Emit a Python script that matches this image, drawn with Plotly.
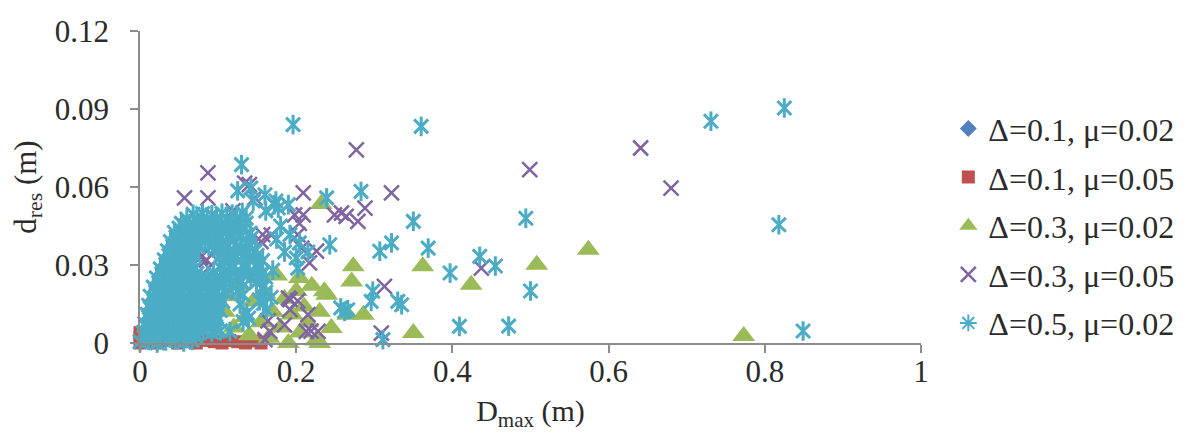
import plotly.graph_objects as go

# ---------------- data ----------------
# Δ=0.1, μ=0.02  (hidden under the dense cluster near the origin)
blue_x = [0.004, 0.012, 0.020, 0.030, 0.040, 0.050, 0.025, 0.035, 0.045, 0.015]
blue_y = [0.002, 0.004, 0.006, 0.008, 0.010, 0.012, 0.015, 0.020, 0.018, 0.010]

# Δ=0.1, μ=0.05  (flat strip along the bottom)
red_x = [0.000, 0.000, 0.000, 0.010, 0.022, 0.035, 0.048, 0.060, 0.072, 0.084,
         0.095, 0.105, 0.115, 0.125, 0.135, 0.145, 0.155]
red_y = [0.000, 0.002, 0.004, 0.0005, 0.000, 0.001, 0.000, 0.0005, 0.000, 0.001,
         0.0005, 0.000, 0.001, 0.0005, 0.000, 0.0008, 0.000]

# Δ=0.3, μ=0.02
green_x = [0.232, 0.273, 0.271, 0.362, 0.424, 0.239, 0.266, 0.286, 0.350, 0.245,
           0.230, 0.574, 0.508, 0.773, 0.204, 0.236,
           0.108, 0.115, 0.120, 0.125, 0.135, 0.140, 0.145, 0.150, 0.155, 0.160,
           0.165, 0.170, 0.175, 0.180, 0.185, 0.190, 0.195, 0.200, 0.205, 0.210,
           0.215, 0.220, 0.225, 0.230]
green_y = [0.0535, 0.0295, 0.0237, 0.0295, 0.0224, 0.0186, 0.0109, 0.0109, 0.0038, 0.0058,
           0.0000, 0.0359, 0.0301, 0.0027, 0.0250, 0.0199,
           0.0120, 0.0180, 0.0060, 0.0220, 0.0100, 0.0030, 0.0160, 0.0250, 0.0080, 0.0190,
           0.0020, 0.0120, 0.0260, 0.0060, 0.0170, 0.0000, 0.0110, 0.0200, 0.0040, 0.0140,
           0.0080, 0.0220, 0.0010, 0.0120]

# Δ=0.3, μ=0.05
purple_x = [0.641, 0.680, 0.499, 0.277, 0.322, 0.209, 0.087, 0.258, 0.279, 0.288,
            0.157, 0.209, 0.207, 0.437, 0.313, 0.309, 0.185, 0.228, 0.160, 0.202,
            0.057, 0.087, 0.134, 0.147, 0.119, 0.085, 0.078, 0.092, 0.088, 0.264,
            0.204, 0.226, 0.217, 0.192, 0.192, 0.166, 0.213, 0.140, 0.155, 0.168,
            0.249, 0.198, 0.202, 0.190, 0.215, 0.164, 0.219]
purple_y = [0.0750, 0.0596, 0.0667, 0.0743, 0.0577, 0.0577, 0.0654, 0.0500, 0.0468, 0.0519,
            0.0417, 0.0493, 0.0365, 0.0288, 0.0218, 0.0038, 0.0070, 0.0045, 0.0013, 0.0162,
            0.0558, 0.0558, 0.0615, 0.0558, 0.0508, 0.0320, 0.0330, 0.0340, 0.0290, 0.0487,
            0.0460, 0.0353, 0.0308, 0.0167, 0.0128, 0.0045, 0.0045, 0.0609, 0.0390, 0.0415,
            0.0493, 0.0493, 0.0417, 0.0173, 0.0109, 0.0085, 0.0046]

# Δ=0.5, μ=0.02 — dense cluster near the origin (part 1)
cyan_core_x = [
    0.000, 0.011, 0.022, 0.033, 0.045, 0.056, 0.067,
    0.004, 0.015, 0.026, 0.037, 0.048, 0.059, 0.070, 0.081, 0.092, 0.103, 0.115,
    0.006, 0.017, 0.028, 0.039, 0.050, 0.061, 0.072, 0.083, 0.094, 0.132,
    0.009, 0.020, 0.031, 0.042, 0.053, 0.064, 0.075, 0.086, 0.097, 0.137,
    0.011, 0.022, 0.033, 0.044, 0.055, 0.066, 0.077, 0.088, 0.099, 0.128, 0.158,
    0.013, 0.024, 0.035, 0.046, 0.057, 0.068, 0.079, 0.090, 0.101, 0.132, 0.168,
    0.017, 0.028, 0.039, 0.050, 0.061, 0.072, 0.083, 0.094, 0.106, 0.118, 0.157,
    0.021, 0.032, 0.043, 0.054, 0.065, 0.076, 0.087, 0.098, 0.110, 0.124, 0.142, 0.161,
    0.026, 0.037, 0.048, 0.059, 0.070, 0.103, 0.117, 0.133, 0.151,
    0.031, 0.042, 0.053, 0.064, 0.108, 0.122, 0.140, 0.157,
    0.035, 0.046, 0.057, 0.068, 0.101, 0.115, 0.130, 0.148,
    0.039, 0.050, 0.061, 0.072, 0.083, 0.094, 0.106, 0.120, 0.137,
    0.044, 0.055, 0.066, 0.077, 0.088, 0.099, 0.111, 0.125, 0.141,
    0.053, 0.064, 0.075, 0.086, 0.097, 0.109, 0.122, 0.136,
    0.068, 0.080, 0.092, 0.105, 0.118, 0.131]
cyan_core_y = [
    0.0005, 0.0010, 0.0000, 0.0008, 0.0012, 0.0004, 0.0010,
    0.0040, 0.0038, 0.0043, 0.0040, 0.0036, 0.0042, 0.0040, 0.0045, 0.0041, 0.0047, 0.0044,
    0.0075, 0.0072, 0.0078, 0.0074, 0.0077, 0.0071, 0.0076, 0.0079, 0.0073, 0.0082,
    0.0110, 0.0108, 0.0113, 0.0111, 0.0106, 0.0114, 0.0110, 0.0112, 0.0109, 0.0115,
    0.0145, 0.0142, 0.0147, 0.0144, 0.0148, 0.0143, 0.0146, 0.0141, 0.0149, 0.0150, 0.0152,
    0.0180, 0.0183, 0.0178, 0.0181, 0.0177, 0.0184, 0.0180, 0.0182, 0.0179, 0.0185, 0.0176,
    0.0215, 0.0212, 0.0218, 0.0214, 0.0217, 0.0211, 0.0216, 0.0213, 0.0219, 0.0222, 0.0214,
    0.0250, 0.0247, 0.0253, 0.0249, 0.0252, 0.0246, 0.0251, 0.0248, 0.0254, 0.0256, 0.0249, 0.0253,
    0.0285, 0.0282, 0.0288, 0.0284, 0.0287, 0.0289, 0.0284, 0.0291, 0.0286,
    0.0320, 0.0318, 0.0323, 0.0319, 0.0322, 0.0326, 0.0321, 0.0317,
    0.0355, 0.0352, 0.0358, 0.0354, 0.0357, 0.0353, 0.0359, 0.0356,
    0.0390, 0.0387, 0.0393, 0.0389, 0.0392, 0.0386, 0.0391, 0.0395, 0.0388,
    0.0425, 0.0422, 0.0428, 0.0424, 0.0427, 0.0421, 0.0426, 0.0429, 0.0423,
    0.0460, 0.0458, 0.0463, 0.0459, 0.0462, 0.0457, 0.0464, 0.0461,
    0.0495, 0.0498, 0.0493, 0.0499, 0.0496, 0.0502]

# Δ=0.5, μ=0.02 — dense cluster near the origin (part 2, in-between points)
cyan_fill_x = [
    0.005, 0.016, 0.027, 0.039, 0.050, 0.061, 0.072,
    0.010, 0.021, 0.032, 0.043, 0.054, 0.065, 0.076, 0.087, 0.098,
    0.012, 0.023, 0.034, 0.045, 0.056, 0.067, 0.078, 0.089, 0.100, 0.139,
    0.015, 0.026, 0.037, 0.048, 0.059, 0.070, 0.081, 0.092, 0.103, 0.162,
    0.018, 0.029, 0.040, 0.051, 0.062, 0.073, 0.084, 0.095, 0.106, 0.153,
    0.020, 0.031, 0.042, 0.053, 0.064, 0.075, 0.086, 0.097, 0.109, 0.125, 0.161,
    0.024, 0.035, 0.046, 0.057, 0.068, 0.079, 0.090, 0.101, 0.115, 0.130, 0.149,
    0.028, 0.040, 0.051, 0.062, 0.073, 0.094, 0.108, 0.122, 0.138, 0.156,
    0.033, 0.044, 0.055, 0.066, 0.105, 0.118, 0.135, 0.152,
    0.037, 0.048, 0.059, 0.070, 0.104, 0.118, 0.134, 0.150,
    0.042, 0.053, 0.064, 0.075, 0.088, 0.099, 0.111, 0.124, 0.140,
    0.046, 0.057, 0.068, 0.079, 0.090, 0.102, 0.114, 0.129, 0.143,
    0.050, 0.061, 0.072, 0.083, 0.094, 0.105, 0.117, 0.130,
    0.060, 0.073, 0.086, 0.098, 0.111, 0.124, 0.136]
cyan_fill_y = [
    0.0022, 0.0020, 0.0025, 0.0021, 0.0024, 0.0019, 0.0023,
    0.0057, 0.0055, 0.0059, 0.0056, 0.0058, 0.0054, 0.0060, 0.0057, 0.0055,
    0.0092, 0.0090, 0.0094, 0.0091, 0.0093, 0.0089, 0.0095, 0.0092, 0.0090, 0.0096,
    0.0127, 0.0125, 0.0129, 0.0126, 0.0128, 0.0124, 0.0130, 0.0127, 0.0125, 0.0128,
    0.0162, 0.0160, 0.0164, 0.0161, 0.0163, 0.0159, 0.0165, 0.0162, 0.0160, 0.0163,
    0.0197, 0.0195, 0.0199, 0.0196, 0.0198, 0.0194, 0.0200, 0.0197, 0.0195, 0.0201, 0.0196,
    0.0232, 0.0230, 0.0234, 0.0231, 0.0233, 0.0229, 0.0235, 0.0232, 0.0230, 0.0236, 0.0233,
    0.0267, 0.0265, 0.0269, 0.0266, 0.0268, 0.0270, 0.0266, 0.0271, 0.0268, 0.0265,
    0.0302, 0.0300, 0.0304, 0.0301, 0.0303, 0.0305, 0.0301, 0.0299,
    0.0337, 0.0335, 0.0339, 0.0336, 0.0338, 0.0334, 0.0340, 0.0337,
    0.0372, 0.0370, 0.0374, 0.0371, 0.0373, 0.0369, 0.0375, 0.0372, 0.0370,
    0.0407, 0.0405, 0.0409, 0.0406, 0.0408, 0.0404, 0.0410, 0.0407, 0.0405,
    0.0442, 0.0440, 0.0444, 0.0441, 0.0443, 0.0439, 0.0445, 0.0442,
    0.0477, 0.0479, 0.0475, 0.0480, 0.0476, 0.0478, 0.0481]

# Δ=0.5, μ=0.02 — scattered points
cyan_out_x = [
    0.196, 0.360, 0.130, 0.283, 0.239, 0.177, 0.350, 0.243, 0.307, 0.322,
    0.369, 0.397, 0.435, 0.409, 0.311, 0.298, 0.266, 0.335, 0.204, 0.825,
    0.731, 0.818, 0.849, 0.494, 0.500, 0.472, 0.455, 0.172, 0.190, 0.160,
    0.142, 0.125, 0.215, 0.202, 0.296, 0.257, 0.330, 0.174, 0.161, 0.145,
    0.192, 0.200, 0.180, 0.185, 0.175, 0.170, 0.262]
cyan_out_y = [
    0.0840, 0.0833, 0.0686, 0.0583, 0.0558, 0.0519, 0.0468, 0.0378, 0.0353, 0.0385,
    0.0365, 0.0269, 0.0333, 0.0064, 0.0013, 0.0199, 0.0128, 0.0147, 0.0385, 0.0904,
    0.0853, 0.0455, 0.0046, 0.0480, 0.0200, 0.0065, 0.0296, 0.0532, 0.0532, 0.0570,
    0.0596, 0.0585, 0.0350, 0.0288, 0.0160, 0.0135, 0.0160, 0.0546, 0.0508, 0.0546,
    0.0417, 0.0327, 0.0450, 0.0350, 0.0400, 0.0280, 0.0122]

cyan_x = cyan_core_x + cyan_fill_x + cyan_out_x
cyan_y = cyan_core_y + cyan_fill_y + cyan_out_y

series_names = ["Δ=0.1, μ=0.02", "Δ=0.1, μ=0.05", "Δ=0.3, μ=0.02",
                "Δ=0.3, μ=0.05", "Δ=0.5, μ=0.02"]
x_ticks = [0, 0.2, 0.4, 0.6, 0.8, 1]
x_tick_text = ["0", "0.2", "0.4", "0.6", "0.8", "1"]
y_ticks = [0, 0.03, 0.06, 0.09, 0.12]
y_tick_text = ["0", "0.03", "0.06", "0.09", "0.12"]

# ---------------- styling ----------------
BLUE, RED, GREEN, PURPLE, CYAN = "#4F81BD", "#C0504D", "#9BBB59", "#8064A2", "#4BACC6"
FONT = "Liberation Serif"
TXT = "#2b2b2b"
AX = "#8c8c8c"

fig = go.Figure()
fig.add_trace(go.Scatter(x=blue_x, y=blue_y, mode="markers", name=series_names[0],
                         legendgroup="a", cliponaxis=False,
                         marker=dict(symbol="diamond", size=13, color=BLUE)))
fig.add_trace(go.Scatter(x=red_x, y=red_y, mode="markers", name=series_names[1],
                         legendgroup="b", cliponaxis=False,
                         marker=dict(symbol="square", size=13, color=RED)))
fig.add_trace(go.Scatter(x=green_x, y=green_y, mode="markers", name=series_names[2],
                         legendgroup="c", cliponaxis=False,
                         marker=dict(symbol="triangle-up", size=20, color=GREEN)))
fig.add_trace(go.Scatter(x=purple_x, y=purple_y, mode="markers", name=series_names[3],
                         legendgroup="d", cliponaxis=False,
                         marker=dict(symbol="x-thin-open", size=15, color=PURPLE,
                                     line=dict(width=2.5, color=PURPLE))))
# Excel-style six-armed asterisk = X + vertical bar
fig.add_trace(go.Scatter(x=cyan_x, y=cyan_y, mode="markers", name=series_names[4],
                         legendgroup="e", showlegend=False, cliponaxis=False,
                         marker=dict(symbol="x-thin-open", size=14, color=CYAN,
                                     line=dict(width=3, color=CYAN))))
fig.add_trace(go.Scatter(x=cyan_x, y=cyan_y, mode="markers", name=series_names[4],
                         legendgroup="e", showlegend=False, cliponaxis=False,
                         marker=dict(symbol="line-ns-open", size=14, color=CYAN,
                                     line=dict(width=3, color=CYAN))))
fig.add_trace(go.Scatter(x=[None], y=[None], mode="markers", name=series_names[4],
                         legendgroup="e", showlegend=True,
                         marker=dict(symbol="asterisk-open", size=14, color=CYAN,
                                     line=dict(width=2, color=CYAN))))

axis_common = dict(showline=True, linecolor=AX, linewidth=1.5, ticks="outside",
                   ticklen=8, tickcolor=AX, tickwidth=1.5, showgrid=False,
                   zeroline=False, tickfont=dict(family=FONT, size=31, color=TXT))

fig.update_layout(
    width=1184, height=439,
    margin=dict(l=132, r=271, t=23, b=104, autoexpand=False),
    paper_bgcolor="white", plot_bgcolor="white",
    xaxis=dict(range=[0, 1], tickvals=x_ticks, ticktext=x_tick_text,
               ticklabelstandoff=-8,
               title=dict(text="D<sub>max</sub> (m)", standoff=12,
                          font=dict(family=FONT, size=30, color=TXT)),
               **axis_common),
    yaxis=dict(range=[0, 0.12], tickvals=y_ticks, ticktext=y_tick_text,
               ticklabelstandoff=15,
               title=dict(text="d<sub>res</sub> (m)", standoff=14,
                          font=dict(family=FONT, size=31, color=TXT)),
               **axis_common),
    legend=dict(x=1.035, xanchor="left", y=0.775, yanchor="top",
                font=dict(family=FONT, size=32, color=TXT),
                tracegroupgap=4, bgcolor="rgba(0,0,0,0)",
                itemsizing="trace"),
    showlegend=True,
)

fig.write_html("out.html")
